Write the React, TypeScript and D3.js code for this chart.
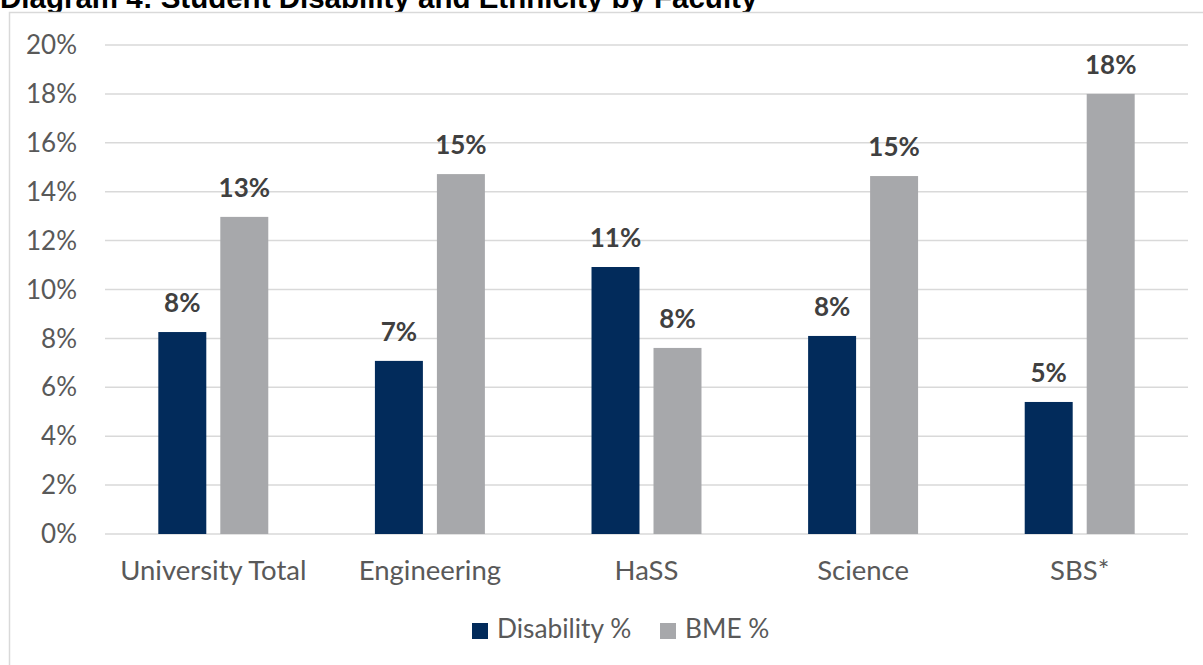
import React from "react";
import * as d3 from "d3";

const categories = ["University Total", "Engineering", "HaSS", "Science", "SBS*"];
const seriesNames = ["Disability %", "BME %"];
const disability = [8.26, 7.08, 10.92, 8.1, 5.4];
const bme = [12.97, 14.72, 7.61, 14.64, 18.0];
const yTicks = [0, 2, 4, 6, 8, 10, 12, 14, 16, 18, 20];
const colors = ["#022B5B", "#A7A8AB"];
const title = "Diagram 4: Student Disability and Ethnicity by Faculty";

const W = 1203;
const H = 665;
const font = "Lato, 'Open Sans', sans-serif";

export default function App() {
  const x = d3.scaleBand<string>().domain(categories).range([105, 1188]).padding(0);
  const xs = d3
    .scaleBand<string>()
    .domain(seriesNames)
    .range([0, x.bandwidth()])
    .paddingInner(0.226)
    .paddingOuter(0.86);
  const y = d3.scaleLinear().domain([0, 20]).range([534, 45]);
  const values = [disability, bme];

  return (
    <svg
      width={W}
      height={H}
      style={{ position: "absolute", left: 0, top: 0, background: "#fff" }}
    >
      <text
        x={0}
        y={8}
        fontFamily="'Liberation Sans', Arial, sans-serif"
        fontWeight="bold"
        fontSize={29.5}
        fill="#000"
      >
        {title}
      </text>
      <rect x={9.5} y={12.5} width={1220} height={700} fill="#fff" stroke="#D9D9D9" strokeWidth={1.5} />

      {yTicks.map((t) => (
        <g key={t}>
          <line x1={105} x2={1188} y1={y(t)} y2={y(t)} stroke="#D9D9D9" strokeWidth={1.5} />
          <text
            x={77}
            y={y(t)}
            dy="0.35em"
            textAnchor="end"
            fontFamily={font}
            fontSize={26}
            fill="#595959"
          >
            {t}%
          </text>
        </g>
      ))}

      {categories.map((c, i) => (
        <g key={c}>
          {seriesNames.map((s, j) => {
            const v = values[j][i];
            const bx = (x(c) as number) + (xs(s) as number);
            return (
              <g key={s}>
                <rect
                  x={bx}
                  y={y(v)}
                  width={xs.bandwidth()}
                  height={y(0) - y(v)}
                  fill={colors[j]}
                />
                <text
                  x={bx + xs.bandwidth() / 2}
                  y={y(v) - 20}
                  textAnchor="middle"
                  fontFamily={font}
                  fontWeight="bold"
                  fontSize={26}
                  fill="#404040"
                >
                  {Math.round(v)}%
                </text>
              </g>
            );
          })}
          <text
            x={(x(c) as number) + x.bandwidth() / 2}
            y={580}
            textAnchor="middle"
            fontFamily={font}
            fontSize={27.5}
            fill="#595959"
          >
            {c}
          </text>
        </g>
      ))}

      {seriesNames.map((s, j) => {
        const lx = j === 0 ? 472 : 660;
        return (
          <g key={s}>
            <rect x={lx} y={623} width={16} height={16} fill={colors[j]} />
            <text x={lx + 25} y={638} fontFamily={font} fontSize={26.3} fill="#595959">
              {s}
            </text>
          </g>
        );
      })}
    </svg>
  );
}
